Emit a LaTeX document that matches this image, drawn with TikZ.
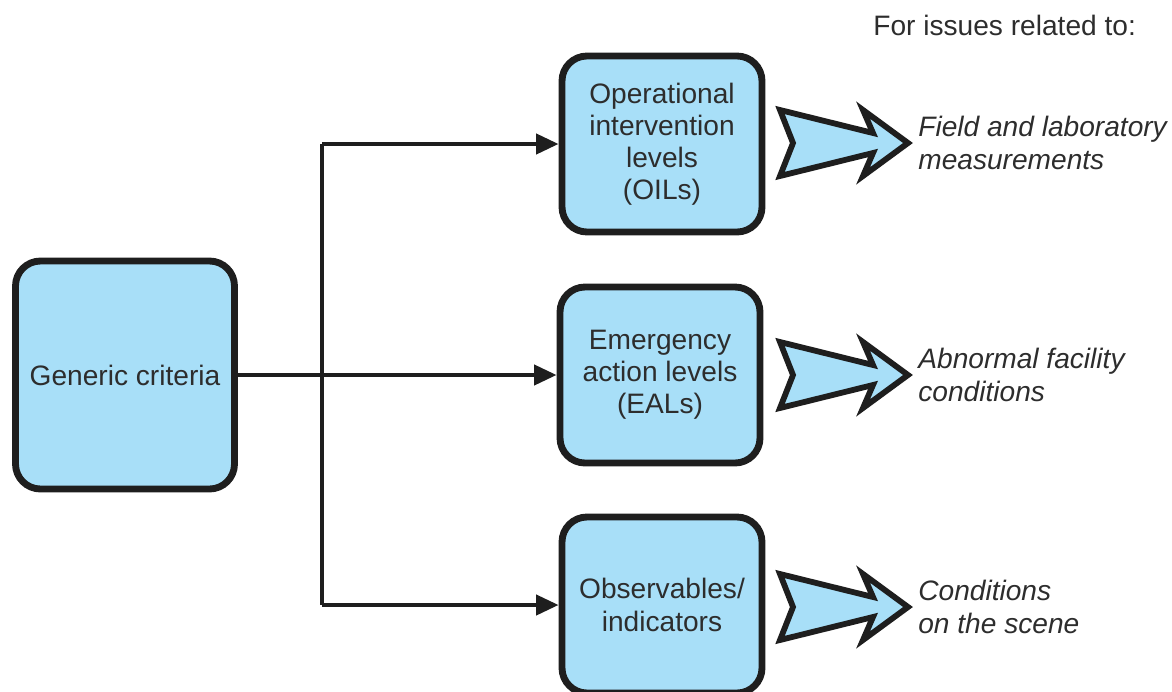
\documentclass[tikz,border=0pt]{standalone}
\usepackage{fontspec}
\setmainfont{Liberation Sans}
\usetikzlibrary{arrows.meta,positioning}
\definecolor{boxfill}{RGB}{168,223,248}
\definecolor{ink}{RGB}{30,30,30}
\definecolor{textgray}{RGB}{45,45,45}
\tikzset{
    levelbox/.style = {draw = ink, fill = boxfill, line width = 3.9pt,
        rounded corners = 0.5cm, align = center, text = textgray,
        minimum width = 4.0cm, minimum height = 3.52cm, inner sep = 0pt},
    link/.style = {draw = ink, line width = 2.4pt},
    conn/.style = {link, -{Triangle[length = 0.45cm, width = 0.4cm]}},
    issue/.style = {anchor = west, align = left, text = textgray,
        font = \itshape, inner sep = 0pt},
    pics/fatarrow/.style = {code = {
        \draw[draw = ink, fill = boxfill, line width = 3.3pt, line join = miter]
            (0.04, 0.66) -- (1.9, 0.2) -- (1.7, 0.66) -- (2.6, 0)
            -- (1.7, -0.66) -- (1.9, -0.2) -- (0.04, -0.66) -- (0.3, 0) -- cycle;
    }}
}
\begin{document}
\fontsize{16}{18.3}\selectfont
\begin{tikzpicture}
    \useasboundingbox (0, 0) rectangle (23.44, -13.82);

    % boxes
    \node[levelbox, minimum width = 4.38cm, minimum height = 4.56cm]
        (gen) at (2.5, -7.5) {Generic criteria};
    \node[levelbox] (oil) at (13.24, -2.88)
        {Operational\\intervention\\levels\\(OILs)};
    \node[levelbox] (eal) at (13.2, -7.5)
        {Emergency\\action levels\\(EALs)};
    \node[levelbox] (obs) at (13.24, -12.1)
        {Observables/\\indicators};

    % connectors
    \coordinate (trunk) at (6.44, -7.5);
    \draw[link] (oil.west -| trunk) -- (obs.west -| trunk);
    \draw[conn] (gen) -- (eal);
    \draw[conn] (oil.west -| trunk) -- (oil);
    \draw[conn] (obs.west -| trunk) -- (obs);

    % issues
    \node[anchor = west, inner sep = 0pt, text = textgray]
        (head) at (17.46, -0.5) {For issues related to:};
    \path
        (15.56, -2.86) pic {fatarrow}
        (15.56, -7.5) pic {fatarrow}
        (15.56, -12.14) pic {fatarrow}
    ;
    \node[issue] (field) at (18.36, -2.86)
        {Field and laboratory\\measurements};
    \node[issue] (facility) at (18.36, -7.5)
        {Abnormal facility\\conditions};
    \node[issue] (scene) at (18.36, -12.14)
        {Conditions\\on the scene};
\end{tikzpicture}
\end{document}
